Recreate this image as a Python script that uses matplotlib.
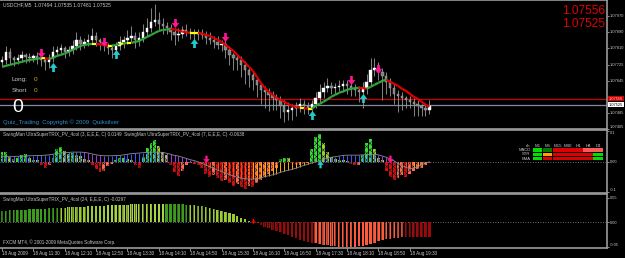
import numpy as np
import matplotlib
matplotlib.use("Agg")
import matplotlib.pyplot as plt
from matplotlib.collections import LineCollection
from matplotlib.path import Path
from matplotlib.patches import Rectangle

W, H = 625, 258
FONT = ["Liberation Sans", "DejaVu Sans"]
FRAME = "#9a9a9a"
TXT = "#c8c8c8"
plt.rcParams["hatch.linewidth"] = 0.35

# ---------------- data ----------------
header = "USDCHF,M5  1.07494 1.07535 1.07481 1.07525"
first_open = 1.07740
close = [1.07750, 1.07790, 1.07760, 1.07750, 1.07760, 1.07775, 1.07765, 1.07760, 1.07770, 1.07760,
         1.07750, 1.07740, 1.07760, 1.07790, 1.07800, 1.07810, 1.07790, 1.07800, 1.07820, 1.07850,
         1.07830, 1.07840, 1.07850, 1.07870, 1.07850, 1.07840, 1.07825, 1.07810, 1.07800, 1.07820,
         1.07840, 1.07850, 1.07860, 1.07870, 1.07850, 1.07860, 1.07890, 1.07910, 1.07940, 1.07950,
         1.07930, 1.07920, 1.07910, 1.07890, 1.07875, 1.07880, 1.07900, 1.07890, 1.07885, 1.07880,
         1.07885, 1.07875, 1.07860, 1.07850, 1.07840, 1.07825, 1.07830, 1.07800, 1.07775, 1.07760,
         1.07750, 1.07725, 1.07700, 1.07675, 1.07650, 1.07625, 1.07600, 1.07590, 1.07575, 1.07560,
         1.07550, 1.07520, 1.07490, 1.07500, 1.07510, 1.07520, 1.07530, 1.07520, 1.07510, 1.07530,
         1.07560, 1.07590, 1.07610, 1.07620, 1.07610, 1.07615, 1.07620, 1.07630, 1.07620, 1.07610,
         1.07600, 1.07590, 1.07610, 1.07640, 1.07700, 1.07710, 1.07690, 1.07670, 1.07640, 1.07610,
         1.07580, 1.07570, 1.07560, 1.07550, 1.07540, 1.07530, 1.07520, 1.07510, 1.07500, 1.07520]
wick_up = [2, 3, 2, 1, 2, 2, 1, 2, 1, 2, 2, 1, 2, 3, 2, 2, 1, 2, 3, 4,
           2, 2, 3, 4, 2, 1, 2, 1, 2, 2, 3, 2, 4, 5, 2, 3, 4, 5, 7, 8,
           4, 3, 2, 2, 2, 3, 2, 3, 2, 2, 2, 2, 2, 3, 2, 3, 2, 2, 2, 1,
           2, 2, 2, 1, 2, 2, 1, 2, 2, 2, 2, 2, 3, 4, 2, 2, 3, 2, 2, 2,
           3, 4, 3, 4, 2, 2, 3, 2, 2, 2, 2, 2, 3, 4, 6, 5, 3, 2, 2, 2,
           2, 2, 2, 1, 2, 2, 2, 1, 2, 3]
wick_dn = [2, 2, 3, 3, 2, 2, 3, 2, 2, 3, 3, 4, 3, 2, 2, 2, 3, 2, 2, 2,
           3, 2, 2, 2, 3, 4, 3, 3, 4, 2, 2, 3, 2, 2, 4, 3, 2, 2, 2, 2,
           3, 4, 3, 4, 5, 3, 2, 2, 3, 3, 3, 2, 3, 2, 3, 2, 3, 4, 5, 6,
           5, 6, 7, 6, 5, 6, 7, 8, 8, 6, 5, 6, 5, 4, 5, 4, 3, 4, 3, 2,
           2, 2, 3, 2, 3, 3, 2, 3, 4, 4, 3, 5, 8, 3, 2, 3, 4, 12, 6, 4,
           5, 8, 6, 4, 3, 6, 5, 4, 3, 2]
ma = [1.07715, 1.07720, 1.07725, 1.07730, 1.07735, 1.07740, 1.07745, 1.07750, 1.07752, 1.07755,
      1.07760, 1.07758, 1.07755, 1.07760, 1.07770, 1.07775, 1.07782, 1.07790, 1.07800, 1.07810,
      1.07820, 1.07825, 1.07828, 1.07830, 1.07830, 1.07828, 1.07825, 1.07820, 1.07820, 1.07825,
      1.07830, 1.07832, 1.07835, 1.07835, 1.07840, 1.07845, 1.07855, 1.07865, 1.07875, 1.07885,
      1.07895, 1.07900, 1.07902, 1.07905, 1.07902, 1.07898, 1.07892, 1.07888, 1.07885, 1.07885,
      1.07885, 1.07882, 1.07875, 1.07870, 1.07860, 1.07850, 1.07840, 1.07825, 1.07810, 1.07795,
      1.07775, 1.07755, 1.07735, 1.07715, 1.07695, 1.07665, 1.07635, 1.07610, 1.07590, 1.07575,
      1.07560, 1.07550, 1.07540, 1.07528, 1.07520, 1.07515, 1.07510, 1.07508, 1.07505, 1.07505,
      1.07520, 1.07530, 1.07540, 1.07552, 1.07565, 1.07575, 1.07585, 1.07592, 1.07600, 1.07605,
      1.07608, 1.07610, 1.07608, 1.07605, 1.07615, 1.07625, 1.07635, 1.07645, 1.07650, 1.07640,
      1.07630, 1.07620, 1.07605, 1.07595, 1.07580, 1.07565, 1.07555, 1.07540, 1.07525, 1.07515]
ask, bid = 1.07556, 1.07525
sell_i = [10, 26, 44, 57, 89, 96]
sell_p = [1.07785, 1.07840, 1.07935, 1.07865, 1.07650, 1.07705]
buy_i = [13, 29, 49, 79, 92]
buy_p = [1.07715, 1.07780, 1.07835, 1.07475, 1.07560]
price_ticks = [1.07970, 1.07890, 1.07810, 1.07725, 1.07645, 1.07485, 1.07405]

trix3 = [0.030, 0.032, 0.015, 0.008, 0.012, 0.022, 0.024, 0.010, 0.006, 0.004,
         -0.012, -0.022, -0.010, 0.012, 0.040, 0.048, 0.035, 0.025, 0.028, 0.020,
         0.018, 0.008, 0.004, -0.010, -0.025, -0.035, -0.030, -0.015, -0.008, 0.006,
         0.010, 0.012, 0.008, 0.004, -0.010, -0.020, 0.015, 0.045, 0.060, 0.070,
         0.050, 0.030, 0.020, -0.010, -0.035, -0.048, -0.030, -0.010, -0.006, -0.008,
         -0.012, -0.020, -0.040, -0.050, -0.045, -0.055, -0.065, -0.060, -0.070, -0.080,
         -0.075, -0.085, -0.090, -0.080, -0.085, -0.070, -0.060, -0.050, -0.040, -0.030,
         -0.020, 0.008, 0.012, 0.010, -0.005, -0.012, -0.010, -0.008, -0.005, 0.040,
         0.080, 0.090, 0.060, 0.030, 0.015, 0.008, 0.006, 0.004, 0.003, -0.008,
         -0.012, -0.010, 0.020, 0.060, 0.075, 0.040, 0.010, 0.004, -0.030, -0.050,
         -0.060, -0.055, -0.045, -0.050, -0.040, -0.030, -0.025, -0.020, -0.012, -0.005]
trix7 = [0.017, 0.017, 0.017, 0.017, 0.017, 0.018, 0.018, 0.019, 0.019, 0.020,
         0.020, 0.021, 0.022, 0.024, 0.026, 0.028, 0.029, 0.030, 0.031, 0.031,
         0.031, 0.030, 0.028, 0.025, 0.022, 0.020, 0.019, 0.019, 0.019, 0.020,
         0.020, 0.022, 0.024, 0.026, 0.027, 0.028, 0.029, 0.030, 0.031, 0.031,
         0.031, 0.030, 0.027, 0.024, 0.020, 0.018, 0.014, 0.010, 0.006, 0.003,
         -0.001, -0.006, -0.012, -0.017, -0.022, -0.029, -0.033, -0.038, -0.043, -0.048,
         -0.052, -0.055, -0.057, -0.058, -0.058, -0.057, -0.054, -0.050, -0.047, -0.044,
         -0.040, -0.036, -0.032, -0.029, -0.026, -0.022, -0.017, -0.013, -0.009, -0.005,
         -0.001, 0.003, 0.007, 0.011, 0.014, 0.016, 0.018, 0.020, 0.021, 0.021,
         0.021, 0.021, 0.022, 0.023, 0.024, 0.024, 0.022, 0.018, 0.014, 0.008,
         0.002, -0.006, -0.013, -0.019, -0.024, -0.022, -0.017, -0.011, -0.006, -0.001]
trix24 = [0.024, 0.024, 0.025, 0.025, 0.026, 0.026, 0.026, 0.027, 0.027, 0.028,
          0.028, 0.028, 0.029, 0.029, 0.030, 0.030, 0.030, 0.031, 0.031, 0.032,
          0.032, 0.032, 0.033, 0.033, 0.034, 0.034, 0.034, 0.035, 0.035, 0.036,
          0.036, 0.036, 0.036, 0.037, 0.037, 0.037, 0.037, 0.038, 0.038, 0.038,
          0.038, 0.038, 0.038, 0.038, 0.038, 0.037, 0.037, 0.036, 0.036, 0.035,
          0.034, 0.033, 0.032, 0.030, 0.028, 0.026, 0.024, 0.021, 0.019, 0.017,
          0.013, 0.010, 0.007, 0.004, 0.001, -0.002, -0.005, -0.009, -0.012, -0.015,
          -0.018, -0.020, -0.023, -0.026, -0.029, -0.032, -0.035, -0.037, -0.039, -0.041,
          -0.042, -0.044, -0.045, -0.046, -0.047, -0.048, -0.049, -0.050, -0.050, -0.050,
          -0.049, -0.048, -0.047, -0.045, -0.043, -0.041, -0.038, -0.036, -0.034, -0.033,
          -0.032, -0.031, -0.030, -0.030, -0.030, -0.030, -0.030, -0.030, -0.030, -0.030]
trix24_runs = [(15, "#3c9a1c"), (12, "#9acd32"), (15, "#a8d444"), (6, "#3c9a1c"),
               (16, "#9acd32"), (16, "#9a0a0a"), (23, "#ff5a3a"), (7, "#9a0a0a")]
time_ticks = list(range(0, 105, 8))
time_labels = ["18 Aug 2009", "18 Aug 11:30", "18 Aug 12:10", "18 Aug 12:50", "18 Aug 13:30",
               "18 Aug 14:10", "18 Aug 14:50", "18 Aug 15:30", "18 Aug 16:10", "18 Aug 16:50",
               "18 Aug 17:30", "18 Aug 18:10", "18 Aug 18:50", "18 Aug 19:30"]
mtf_cols = ["M1", "M5", "M15", "M30", "H1", "H4", "D1"]
mtf_rows = ["MACD", "STR", "EMA"]
mtf_state = [["#00e000", "#007a00", "#dd0000", "#dd0000", "#dd0000", "#ff5a5a", "#ff5a5a"],
             ["#00e000", "#ffa000", "#dd0000", "#dd0000", "#dd0000", "#dd0000", "#00e000"],
             ["#00e000", "#dd0000", "#dd0000", "#dd0000", "#dd0000", "#dd0000", "#00e000"]]

# ---------------- layout ----------------
fig = plt.figure(figsize=(W / 100, H / 100), dpi=100, facecolor="black")


def px_axes(x0, y0, x1, y1):
    return fig.add_axes([x0 / W, 1 - y1 / H, (x1 - x0) / W, (y1 - y0) / H])


x = np.arange(len(close))
XL = (-0.51, 154.3)


def style(ax):
    ax.set_facecolor("black")
    for s in ax.spines.values():
        s.set_color(FRAME)
        s.set_linewidth(1.2)
    ax.spines["left"].set_visible(False)
    ax.set_xlim(*XL)
    ax.yaxis.tick_right()
    ax.tick_params(axis="y", colors=TXT, labelsize=2.9, length=1.5, width=0.5, pad=0.6)
    ax.tick_params(axis="x", bottom=False, labelbottom=False)


def edge_labels(labels):
    # keep the first/last tick label inside its own panel (MT4 style)
    labels[0].set_va("top")
    labels[-1].set_va("bottom")


ax1 = px_axes(0, 0, 607, 129)
ax2 = px_axes(0, 130, 607, 193)
ax3 = px_axes(0, 194, 607, 248)
for a in (ax1, ax2, ax3):
    style(a)

# ---------------- main price panel ----------------
c = np.array(close)
o = np.concatenate([[first_open], c[:-1]])
top = np.maximum(o, c) + np.array(wick_up) * 0.0001
bot = np.minimum(o, c) - np.array(wick_dn) * 0.0001
ax1.vlines(x, bot, top, color="#9a9a9a", lw=0.6, zorder=2)
bull = c >= o
body = np.where(np.abs(c - o) < 0.00002, 0.00002, np.abs(c - o))
ax1.bar(x[bull], body[bull], bottom=np.minimum(o, c)[bull], width=0.6,
        color="white", edgecolor="white", lw=0.3, zorder=3)
ax1.bar(x[~bull], body[~bull], bottom=np.minimum(o, c)[~bull], width=0.6,
        color="#7d7d7d", edgecolor="#b0b0b0", lw=0.3, zorder=3)

m = np.array(ma)
segs = [[(x[i], m[i]), (x[i + 1], m[i + 1])] for i in range(len(m) - 1)]
d = np.diff(m)
cols = ["#33a53c" if v > 0.00002 else ("#e00000" if v < -0.00002 else "#ffff00") for v in d]
ax1.add_collection(LineCollection(segs, colors=cols, linewidths=1.6, zorder=4))

ax1.axhline(ask, color="#cc0000", lw=0.9, zorder=1)
ax1.axhline(bid, color="#7f8c99", lw=0.9, zorder=1)

down = Path([(-0.3, 1), (0.3, 1), (0.3, 0.1), (0.85, 0.1), (0, -1), (-0.85, 0.1), (-0.3, 0.1), (-0.3, 1)],
            [1, 2, 2, 2, 2, 2, 2, 79])
up = Path([(px_, -py) for px_, py in down.vertices], down.codes)
ax1.scatter(sell_i, sell_p, marker=down, s=42, color="#ff1493", lw=0, zorder=6)
ax1.scatter(buy_i, buy_p, marker=up, s=42, color="#22cccc", lw=0, zorder=6)

ax1.set_ylim(1.074035, 1.0805)
ax1.set_yticks(price_ticks)
labs = ax1.set_yticklabels([f"{p:.5f}" for p in price_ticks], family=FONT)
labs[-1].set_va("bottom")

ax1.text(0.005, 0.965, header, transform=ax1.transAxes, color=TXT, fontsize=3.6,
         family=FONT, va="center")
ax1.text(0.019, 0.38, "Long:", transform=ax1.transAxes, color=TXT, fontsize=4.6, family=FONT, va="center")
ax1.text(0.055, 0.38, "0", transform=ax1.transAxes, color="#d0b000", fontsize=4.6, family=FONT, va="center")
ax1.text(0.019, 0.30, "Short", transform=ax1.transAxes, color=TXT, fontsize=4.6, family=FONT, va="center")
ax1.text(0.055, 0.30, "0", transform=ax1.transAxes, color="#d0b000", fontsize=4.6, family=FONT, va="center")
ax1.text(0.02, 0.165, "0", transform=ax1.transAxes, color="white", fontsize=14, family=FONT, va="center")
ax1.text(0.005, 0.055, "Quiz_Trading  Copyright \u00a9 2009  Quiksilver", transform=ax1.transAxes,
         color="#2f8fcf", fontsize=4.3, family=FONT, va="center")
ax1.text(0.997, 0.912, f"{ask:.5f}", transform=ax1.transAxes, color="#dd0000", fontsize=8.6,
         family=FONT, ha="right", va="center")
ax1.text(0.997, 0.817, f"{bid:.5f}", transform=ax1.transAxes, color="#dd0000", fontsize=8.6,
         family=FONT, ha="right", va="center")
for val, fc, tc in ((ask, "#cc0000", "#ffd0d0"), (bid, "white", "black")):
    ax1.annotate(f"{val:.5f}", xy=(1, val), xycoords=("axes fraction", "data"),
                 xytext=(1.2, 0), textcoords="offset points", color=tc, fontsize=2.9,
                 family=FONT, va="center", annotation_clip=False,
                 bbox=dict(boxstyle="square,pad=0.15", fc=fc, ec="none"))

# ---------------- TRIX 3 / 7 panel ----------------
t3 = np.array(trix3)
t3p = np.concatenate([[t3[0]], t3[:-1]])
c3 = ["#33dd33" if (v >= 0 and v >= p) else "#9acd32" if v >= 0 else
      ("#d01010" if v < p else "#ff6a4d") for v, p in zip(t3, t3p)]
ax2.bar(x, t3, width=0.75, color=c3, edgecolor="#101010", hatch="xxxxx", lw=0, zorder=2)
t7 = np.array(trix7)
t7p = np.concatenate([[t7[0]], t7[:-1]])
c7 = ["#3a5cff" if (v >= 0 and v >= p) else "#9a3cdc" if v >= 0 else
      ("#ff4a10" if v < p else "#ffb000") for v, p in zip(t7, t7p)]
ax2.vlines(x, 0, t7, colors=c7, lw=0.7, zorder=3)
ax2.plot(x, t7, color="#8a8a9a", lw=0.6, zorder=4)
ax2.axhline(0, color="#909090", lw=0.6, ls=(0, (1, 2)), zorder=1)
ax2.scatter([52, 99], [0.007, 0.007], marker=down, s=30, color="#ff1493", lw=0, zorder=6)
ax2.scatter([81], [-0.007], marker=up, s=30, color="#22cccc", lw=0, zorder=6)
ax2.set_ylim(-0.104, 0.104)
ax2.set_yticks([0.1, 0.0, -0.1])
labs = ax2.set_yticklabels(["0.1", "0.00", "-0.1"], family=FONT)
labs[0].set_va("top")
labs[-1].set_va("bottom")
ax2.text(0.005, 0.93, "SwingMan UltraSuperTRIX_PV_4col (3, E,E,E, C) 0.0149  "
         "SwingMan UltraSuperTRIX_PV_4col (7, E,E,E, C) -0.0638",
         transform=ax2.transAxes, color=TXT, fontsize=3.3, family=FONT, va="center")

# multi-timeframe table
cw, ch = 9.4 / 607, 3.4 / 63
x0, y0 = 533 / 607, (193 - 150) / 63
ax2.text(x0 - 0.004, y0 + 1.25 * ch, "ch", transform=ax2.transAxes, color=TXT,
         fontsize=3.2, family=FONT, ha="right", va="center")
for j, name in enumerate(mtf_cols):
    ax2.text(x0 + (j + 0.5) * cw * 1.07, y0 + 1.25 * ch, name, transform=ax2.transAxes,
             color=TXT, fontsize=3.2, family=FONT, ha="center", va="center")
for r, row in enumerate(mtf_rows):
    yy = y0 - r * ch * 1.25
    ax2.text(x0 - 0.004, yy, row, transform=ax2.transAxes, color=TXT, fontsize=3.0,
             family=FONT, ha="right", va="center")
    for j, col in enumerate(mtf_state[r]):
        ax2.add_patch(Rectangle((x0 + j * cw * 1.07, yy - ch / 2), cw, ch,
                                transform=ax2.transAxes, color=col, lw=0))

# ---------------- TRIX 24 panel ----------------
c24 = [col for n, col in trix24_runs for _ in range(n)]
ax3.bar(x, trix24, width=0.62, color=c24, edgecolor="#0a0a0a", hatch="||||", lw=0, zorder=2)
ax3.axhline(0, color="#909090", lw=0.6, ls=(0, (1, 2)), zorder=1)
ax3.scatter([64], [0.004], marker=down, s=14, color="#ff0000", lw=0, zorder=6)
ax3.set_ylim(-0.052, 0.058)
ax3.set_yticks([0.05, 0.0, -0.05])
labs = ax3.set_yticklabels(["0.05", "0.00", "-0.05"], family=FONT)
labs[-1].set_va("bottom")
ax3.text(0.005, 0.9, "SwingMan UltraSuperTRIX_PV_4col (24, E,E,E, C) -0.0297",
         transform=ax3.transAxes, color=TXT, fontsize=3.3, family=FONT, va="center")
ax3.text(0.005, 0.1, "FXCM MT4, \u00a9 2001-2009 MetaQuotes Software Corp.",
         transform=ax3.transAxes, color=TXT, fontsize=3.3, family=FONT, va="center")
ax3.tick_params(axis="x", bottom=True, labelbottom=True, colors=TXT, labelsize=3.3,
                length=2, width=0.5, pad=0.5)
ax3.set_xticks(time_ticks)
ax3.set_xticklabels(time_labels, ha="left", family=FONT)

fig.savefig("out.png", dpi=100, facecolor="black")
